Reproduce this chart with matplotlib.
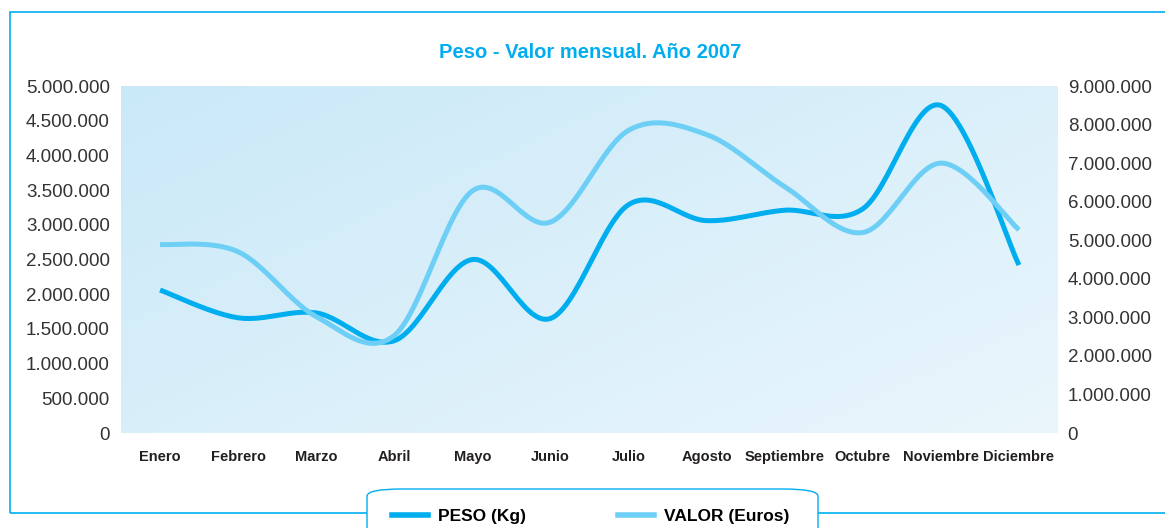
import numpy as np
import matplotlib.pyplot as plt
from matplotlib.patches import Rectangle, FancyBboxPatch
from matplotlib.lines import Line2D

# Data
meses = ['Enero', 'Febrero', 'Marzo', 'Abril', 'Mayo', 'Junio', 'Julio',
         'Agosto', 'Septiembre', 'Octubre', 'Noviembre', 'Diciembre']
peso = [2060000, 1660000, 1730000, 1330000, 2500000, 1650000, 3290000,
        3060000, 3210000, 3230000, 4720000, 2420000]
valor = [4890000, 4700000, 3020000, 2530000, 6280000, 5470000, 7850000,
         7740000, 6390000, 5200000, 7000000, 5270000]

c_peso = '#00aeef'
c_valor = '#6dcff6'
fuente = 'Liberation Sans'


def smooth(x, y, n=30):
    # Excel-like smoothed line (Catmull-Rom as cubic Bezier)
    x = np.asarray(x, float)
    y = np.asarray(y, float)
    px, py = [], []
    t = np.linspace(0, 1, n)
    for i in range(len(x) - 1):
        i0 = max(i - 1, 0)
        i3 = min(i + 2, len(x) - 1)
        p0 = np.array([x[i], y[i]])
        p3 = np.array([x[i + 1], y[i + 1]])
        c1 = p0 + (p3 - np.array([x[i0], y[i0]])) / 6
        c2 = p3 - (np.array([x[i3], y[i3]]) - p0) / 6
        pts = (np.outer((1 - t) ** 3, p0) + np.outer(3 * (1 - t) ** 2 * t, c1)
               + np.outer(3 * (1 - t) * t ** 2, c2) + np.outer(t ** 3, p3))
        px.extend(pts[:, 0])
        py.extend(pts[:, 1])
    return px, py


def miles(v, pos=None):
    return f'{int(v):,}'.replace(',', '.')


plt.rcParams['font.family'] = [fuente, 'DejaVu Sans']

fig = plt.figure(figsize=(11.65, 5.28), dpi=100)
W, H = 1165, 528

# outer frame
fig.patches.append(Rectangle((10 / W, 1 - 513 / H), 1.2, (513 - 12) / H,
                             transform=fig.transFigure, fill=False,
                             edgecolor=c_peso, lw=1.2))

ax = fig.add_axes([121 / W, 1 - 433 / H, (1058 - 121) / W, (433 - 86) / H])
ax2 = ax.twinx()

# gradient background (darker top-left, lighter bottom-right)
grad = np.linspace(0, 1, 200)
gx, gy = np.meshgrid(grad, grad)
g = 0.55 * gx + 0.45 * gy
c0 = np.array([0xca, 0xe9, 0xf8]) / 255
c1 = np.array([0xea, 0xf6, 0xfc]) / 255
img = c0[None, None, :] * (1 - g[..., None]) + c1[None, None, :] * g[..., None]
ax.imshow(img, extent=[0, 1, 0, 1], transform=ax.transAxes, aspect='auto',
          origin='upper', zorder=0)

x = np.arange(len(meses))
sx, sy = smooth(x, peso)
ax.plot(sx, sy, color=c_peso, lw=3.6, solid_capstyle='butt', zorder=3)
sx2, sy2 = smooth(x, valor)
ax2.plot(sx2, sy2, color=c_valor, lw=3.6, solid_capstyle='butt', zorder=2)

ax.set_xlim(-0.5, len(meses) - 0.5)
ax.set_ylim(0, 5000000)
ax2.set_ylim(0, 9000000)
ax.set_yticks(np.arange(0, 5000001, 500000))
ax2.set_yticks(np.arange(0, 9000001, 1000000))
ax.yaxis.set_major_formatter(plt.FuncFormatter(miles))
ax2.yaxis.set_major_formatter(plt.FuncFormatter(miles))
ax.set_xticks(x)
ax.set_xticklabels(meses, fontweight='bold', fontsize=10.5, color='#231f20')
for a in (ax, ax2):
    for s in a.spines.values():
        s.set_visible(False)
    a.tick_params(length=0, labelsize=13.5, labelcolor='#333333')
ax.tick_params(axis='y', pad=8)
ax2.tick_params(axis='y', pad=7)
ax.tick_params(axis='x', pad=12, labelsize=10.5, labelcolor='#231f20')

fig.text(590 / W, 1 - 52 / H, 'Peso - Valor mensual. Año 2007', ha='center',
         va='center', color=c_peso, fontweight='bold', fontsize=14.5)

# legend box
fig.patches.append(FancyBboxPatch((367 / W, -0.05), (818 - 367) / W,
                                  (528 - 489) / H + 0.05,
                                  boxstyle='round,pad=0,rounding_size=0.03',
                                  transform=fig.transFigure, facecolor='white',
                                  edgecolor=c_peso, lw=1.0,
                                  mutation_aspect=H / W))
handles = [Line2D([], [], color=c_peso, lw=4),
           Line2D([], [], color=c_valor, lw=4)]
fig.legend(handles, ['PESO (Kg)', 'VALOR (Euros)'], ncol=2, frameon=False,
           loc='center left', bbox_to_anchor=(392 / W, 1 - 516 / H),
           borderpad=0, borderaxespad=0,
           prop={'weight': 'bold', 'size': 12.5},
           handlelength=2.07, handletextpad=0.57, columnspacing=5.3)

fig.savefig('out.png', dpi=100)
